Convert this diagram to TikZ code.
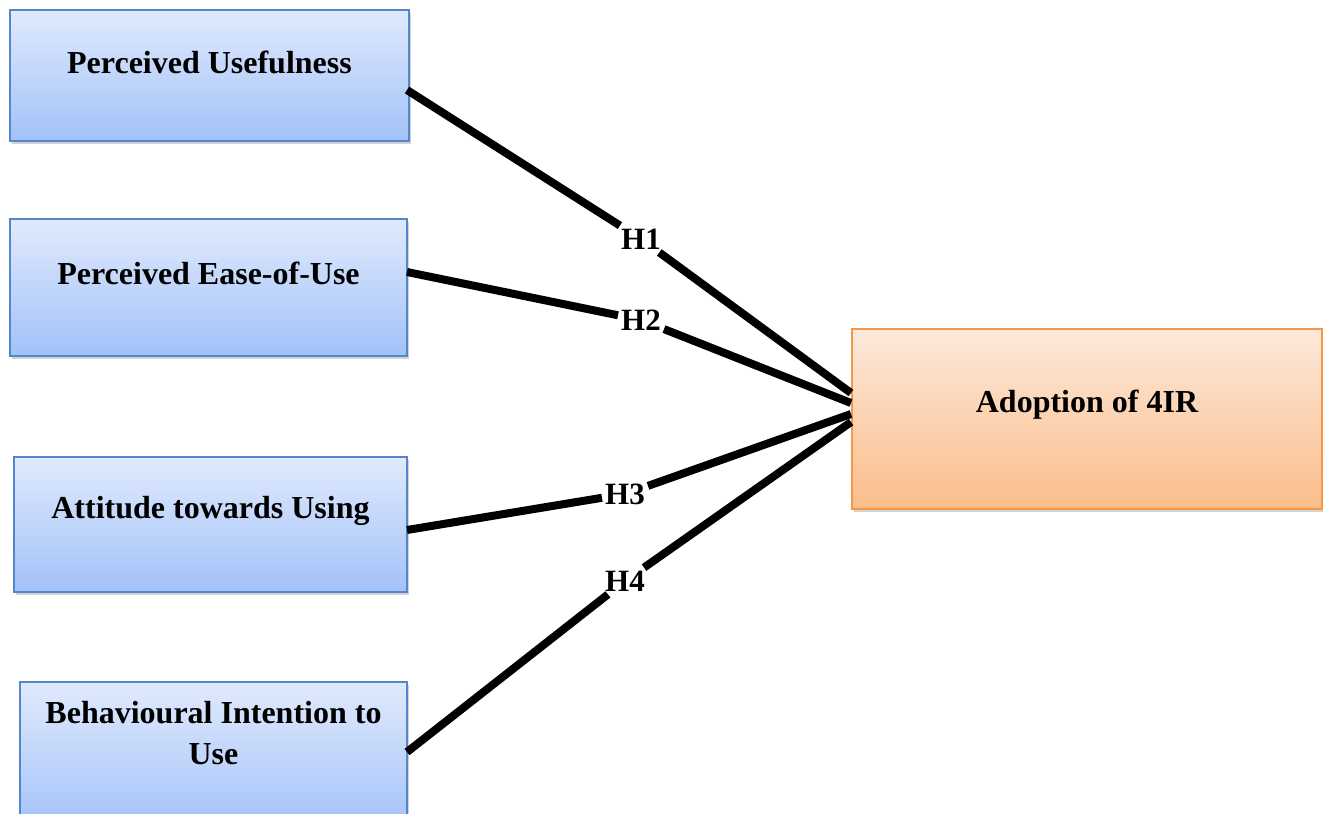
\documentclass[tikz,border=0pt]{standalone}
\usepackage{fontspec}
\setmainfont{Liberation Serif}
\usetikzlibrary{shadows}
\definecolor{bluetop}{RGB}{224,234,253}
\definecolor{bluebot}{RGB}{162,193,248}
\definecolor{blueline}{RGB}{84,134,204}
\definecolor{ortop}{RGB}{253,233,218}
\definecolor{orbot}{RGB}{251,189,138}
\definecolor{orline}{RGB}{247,150,70}
\tikzset{
  bluebox/.style={draw=blueline, line width=1.5pt, top color=bluetop, bottom color=bluebot,
    drop shadow={shadow xshift=2pt, shadow yshift=-3pt, opacity=0.35}, inner sep=0pt},
  orbox/.style={draw=orline, line width=1.5pt, top color=ortop, bottom color=orbot,
    drop shadow={shadow xshift=2pt, shadow yshift=-3pt, opacity=0.35}, inner sep=0pt},
  txt/.style={font=\fontsize{32}{41}\selectfont\bfseries, align=center},
  hyp/.style={font=\fontsize{31}{34}\selectfont\bfseries, fill=white, inner sep=3pt},
  link/.style={line width=8pt, black}
}
\begin{document}
\begin{tikzpicture}[x=1pt,y=-1pt]
\useasboundingbox (0,0) rectangle (1323,814);
% boxes
\node[bluebox, minimum width=399pt, minimum height=131pt] (pu) at (209.5,75.5) {};
\node[txt] (put) at (209.5,62) {Perceived Usefulness};
\node[bluebox, minimum width=397pt, minimum height=137pt] (peu) at (208.5,287.5) {};
\node[txt] (peut) at (208.5,273) {Perceived Ease-of-Use};
\node[bluebox, minimum width=393pt, minimum height=135pt] (atu) at (210.5,524.5) {};
\node[txt] (atut) at (210.5,511) {Attitude towards Using};
\node[bluebox, minimum width=387pt, minimum height=150pt] (bi) at (213.5,757) {};
\node[txt] (bit) at (213.5,733) {Behavioural Intention to\\Use};
\node[orbox, minimum width=470pt, minimum height=180pt] (ad) at (1087,419) {};
\node[txt] (adt) at (1087,405) {Adoption of 4IR};
% connector ends
\coordinate (s1) at (407,90);
\coordinate (s2) at (407,272);
\coordinate (s3) at (407,530);
\coordinate (s4) at (407,752);
\coordinate (e1) at (851,393);
\coordinate (e2) at (851,403);
\coordinate (e3) at (851,414);
\coordinate (e4) at (851,422);
% labels
\node[hyp] (h1) at (641,239) {H1};
\node[hyp] (h2) at (641,320) {H2};
\node[hyp] (h3) at (625,494) {H3};
\node[hyp] (h4) at (625,581) {H4};
% links
\draw[link] (s1) -- (h1) -- (e1);
\draw[link] (s2) -- (h2) -- (e2);
\draw[link] (s3) -- (h3) -- (e3);
\draw[link] (s4) -- (h4) -- (e4);
\end{tikzpicture}
\end{document}
